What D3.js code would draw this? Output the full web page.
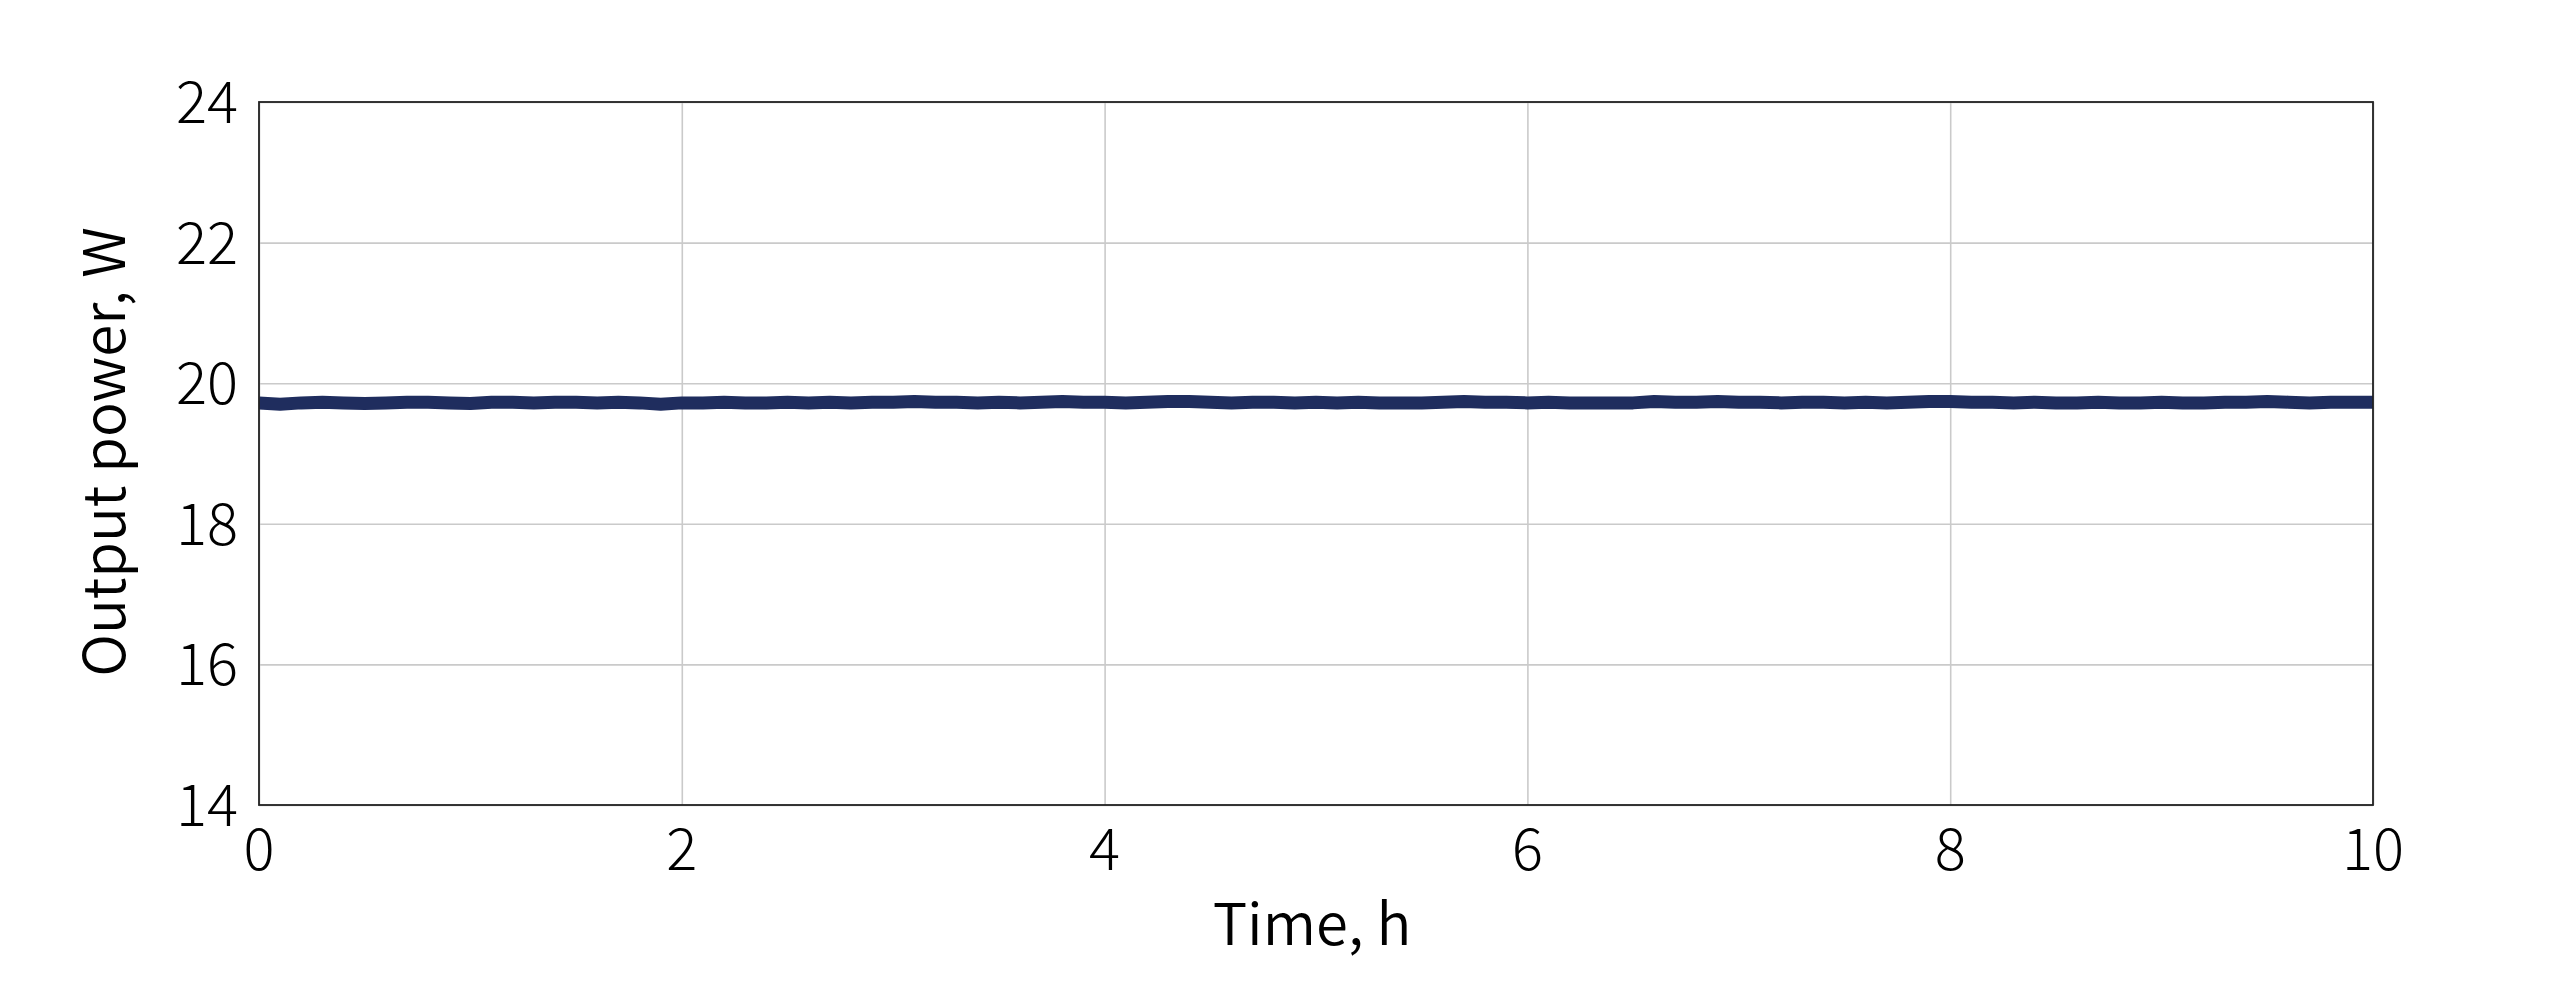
<!DOCTYPE html>
<meta charset="utf-8">
<head>
<style>
  body { margin: 0; background: #fff; }
  text { font-family: "Noto Sans CJK SC", "Noto Sans", sans-serif; font-weight: 300; fill: #000; }
  .title { font-weight: 350; }
</style>
<title>Output power vs time</title>
</head>
<svg width="2550" height="990"></svg>
<script src="https://cdn.jsdelivr.net/npm/d3@7/dist/d3.min.js"></script>
<script>

// time in hours, one reading every 0.1 h
var times = d3.range(0, 101).map(function(i) { return i / 10; });
var power = [
  19.72, 19.70, 19.72, 19.73, 19.72, 19.71, 19.72, 19.73, 19.73, 19.72,
  19.71, 19.73, 19.73, 19.72, 19.73, 19.73, 19.72, 19.73, 19.72, 19.70,
  19.72, 19.72, 19.73, 19.72, 19.72, 19.73, 19.72, 19.73, 19.72, 19.73,
  19.73, 19.74, 19.73, 19.73, 19.72, 19.73, 19.72, 19.73, 19.74, 19.73,
  19.73, 19.72, 19.73, 19.74, 19.74, 19.73, 19.72, 19.73, 19.73, 19.72,
  19.73, 19.72, 19.73, 19.72, 19.72, 19.72, 19.73, 19.74, 19.73, 19.73,
  19.72, 19.73, 19.72, 19.72, 19.72, 19.72, 19.74, 19.73, 19.73, 19.74,
  19.73, 19.73, 19.72, 19.73, 19.73, 19.72, 19.73, 19.72, 19.73, 19.74,
  19.74, 19.73, 19.73, 19.72, 19.73, 19.72, 19.72, 19.73, 19.72, 19.72,
  19.73, 19.72, 19.72, 19.73, 19.73, 19.74, 19.73, 19.72, 19.73, 19.73,
  19.73
];
var xTicks = [0, 2, 4, 6, 8, 10];
var yTicks = [14, 16, 18, 20, 22, 24];

var svg = d3.select("svg");
var plotLeft = 259, plotRight = 2373, plotTop = 102, plotBottom = 805;

var xScale = d3.scaleLinear().domain([0, 10]).range([plotLeft, plotRight]);
var yScale = d3.scaleLinear().domain([14, 24]).range([plotBottom, plotTop]);

// grid
svg.append("g")
   .attr("transform", "translate(0," + plotBottom + ")")
   .call(d3.axisBottom(xScale).tickValues(xTicks).tickSize(-(plotBottom - plotTop)).tickFormat(""))
   .call(function(g) { g.select(".domain").remove(); })
   .selectAll("line").attr("stroke", "#cacaca").attr("stroke-width", 1.6);

svg.append("g")
   .attr("transform", "translate(" + plotLeft + ",0)")
   .call(d3.axisLeft(yScale).tickValues(yTicks).tickSize(-(plotRight - plotLeft)).tickFormat(""))
   .call(function(g) { g.select(".domain").remove(); })
   .selectAll("line").attr("stroke", "#cacaca").attr("stroke-width", 1.6);

// data line
svg.append("clipPath").attr("id", "plot")
   .append("rect").attr("x", plotLeft).attr("y", plotTop)
   .attr("width", plotRight - plotLeft).attr("height", plotBottom - plotTop);

var line = d3.line()
    .x(function(d, i) { return xScale(times[i]); })
    .y(function(d) { return yScale(d); });

svg.append("path")
   .datum(power)
   .attr("clip-path", "url(#plot)")
   .attr("fill", "none")
   .attr("stroke", "#1f2d5e")
   .attr("stroke-width", 13)
   .attr("stroke-linejoin", "round")
   .attr("d", line);

// frame
svg.append("rect")
   .attr("x", plotLeft).attr("y", plotTop)
   .attr("width", plotRight - plotLeft).attr("height", plotBottom - plotTop)
   .attr("fill", "none").attr("stroke", "#222").attr("stroke-width", 1.8);

// tick labels
svg.append("g").selectAll("text")
   .data(xTicks).enter().append("text")
   .attr("x", function(d) { return xScale(d); })
   .attr("y", 870)
   .attr("text-anchor", "middle")
   .attr("font-size", "58px")
   .text(function(d) { return d; });

svg.append("g").selectAll("text")
   .data(yTicks).enter().append("text")
   .attr("x", 238)
   .attr("y", function(d) { return yScale(d) + 21; })
   .attr("text-anchor", "end")
   .attr("font-size", "58px")
   .text(function(d) { return d; });

// axis titles
svg.append("text")
   .attr("class", "title")
   .attr("x", 1312).attr("y", 945)
   .attr("text-anchor", "middle")
   .attr("font-size", "58px")
   .text("Time, h");

svg.append("text")
   .attr("class", "title")
   .attr("transform", "translate(125,452) rotate(-90)")
   .attr("text-anchor", "middle")
   .attr("font-size", "58px")
   .text("Output power, W");

</script>
